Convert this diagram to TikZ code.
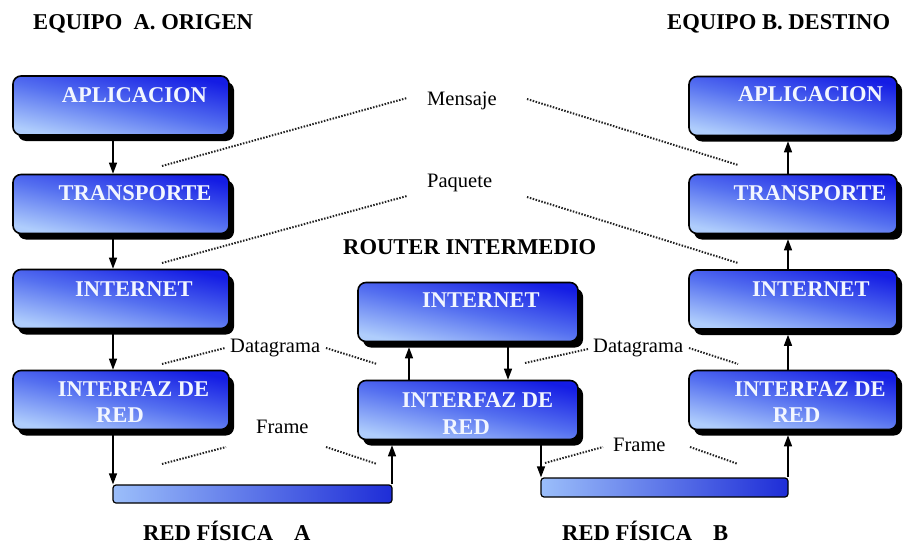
\documentclass[tikz,border=0pt]{standalone}
\usepackage{fontspec}
\setmainfont{Liberation Serif}[BoldFont={Liberation Serif Bold}]
\newfontfamily\titlefont{Liberation Serif Bold}
\usetikzlibrary{shadows,arrows.meta}

\definecolor{layerdark}{RGB}{20,28,228}
\definecolor{layerlight}{RGB}{175,205,252}
\definecolor{layermid}{RGB}{85,112,240}
\definecolor{layertext}{RGB}{242,246,255}
\definecolor{wiredark}{RGB}{30,45,215}
\definecolor{wirelight}{RGB}{155,190,250}
\definecolor{dotgray}{RGB}{35,35,35}

\tikzset{
  layer/.style={draw=black, line width=1.6pt, rounded corners=8pt,
    minimum height=59pt, inner sep=0pt,
    top color=layerdark, bottom color=layerlight, middle color=layermid,
    shading angle=-12,
    general shadow={shadow xshift=5pt, shadow yshift=-6pt, fill=black}},
  layerwide/.style={layer, minimum width=216pt},
  layerrouter/.style={layer, minimum width=220pt},
  layerright/.style={layer, minimum width=208pt},
  layertxt/.style={text=layertext, font=\fontsize{22.5}{24}\selectfont\titlefont, inner sep=0pt},
  heading/.style={font=\fontsize{22.6}{24}\selectfont\titlefont, inner sep=0pt, anchor=base west},
  pdu/.style={font=\fontsize{20.5}{22}\selectfont, inner sep=0pt, anchor=base west},
  wire/.style={draw=black, line width=1.2pt, rounded corners=3pt,
    left color=wirelight, right color=wiredark, inner sep=0pt},
  flow/.style={line width=1.3pt, -{Triangle[length=11pt,width=8pt]}},
  peer/.style={draw=dotgray, line width=2pt, dash pattern=on 1.5pt off 1.5pt},
}

\begin{document}
\begin{tikzpicture}[x=1pt,y=-1pt]
  % canvas
  \fill[white] (0,0) rectangle (903,546);
  \path[use as bounding box] (0,0) rectangle (903,546);

  % column positions of the vertical arrows
  \coordinate (colA)  at (113,0);
  \coordinate (colA2) at (392,0);
  \coordinate (colR1) at (409,0);
  \coordinate (colR2) at (508,0);
  \coordinate (colB2) at (541,0);
  \coordinate (colB)  at (788,0);

  % host A stack
  \node[layerwide] (aplA) at (121,105.5) {};
  \node[layerwide] (traA) at (121,204) {};
  \node[layerwide] (intA) at (121,299) {};
  \node[layerwide] (ifzA) at (121,400) {};

  % router stack
  \node[layerrouter] (intR) at (468,312) {};
  \node[layerrouter] (ifzR) at (468,410) {};

  % host B stack
  \node[layerright] (aplB) at (793,106) {};
  \node[layerright] (traB) at (793,204) {};
  \node[layerright] (intB) at (793,299.5) {};
  \node[layerright] (ifzB) at (793,400) {};

  % physical networks
  \node[wire, minimum width=279pt, minimum height=18pt] (barA) at (252.5,494) {};
  \node[wire, minimum width=247pt, minimum height=19pt] (barB) at (664.5,487.5) {};

  % layer labels
  \node[layertxt] (aplAt) at (134.5,95) {APLICACION};
  \node[layertxt] (traAt) at (135,193) {TRANSPORTE};
  \node[layertxt] (intAt) at (134,289) {INTERNET};
  \node[layertxt] (ifzAt) at (133.5,389) {INTERFAZ DE};
  \node[layertxt] (ifzAr) at (120,415) {RED};

  \node[layertxt] (intRt) at (481,300) {INTERNET};
  \node[layertxt] (ifzRt) at (477.5,400) {INTERFAZ DE};
  \node[layertxt] (ifzRr) at (466,427) {RED};

  \node[layertxt] (aplBt) at (810.5,94) {APLICACION};
  \node[layertxt] (traBt) at (810,193) {TRANSPORTE};
  \node[layertxt] (intBt) at (811,289) {INTERNET};
  \node[layertxt] (ifzBt) at (810,389) {INTERFAZ DE};
  \node[layertxt] (ifzBr) at (796.5,415) {RED};

  % headings
  \node[heading] (hostA)  at (33,29.5)  {EQUIPO\ \ A. ORIGEN};
  \node[heading] (hostB)  at (667,29.5) {EQUIPO B. DESTINO};
  \node[heading] (router) at (343,254.5) {ROUTER INTERMEDIO};
  \node[heading] (netA)   at (143,540)  {RED FÍSICA\hspace{21pt}A};
  \node[heading] (netB)   at (562,540)  {RED FÍSICA\hspace{21pt}B};

  % data units
  \node[pdu] (msg)  at (427,105) {Mensaje};
  \node[pdu] (pkt)  at (427,187) {Paquete};
  \node[pdu] (dgA)  at (230,352) {Datagrama};
  \node[pdu] (dgB)  at (593,352) {Datagrama};
  \node[pdu] (frA)  at (256,433) {Frame};
  \node[pdu] (frB)  at (613,451) {Frame};

  % host A goes down the stack
  \draw[flow] (aplA.south -| colA) -- (traA.north -| colA);
  \draw[flow] (traA.south -| colA) -- (intA.north -| colA);
  \draw[flow] (intA.south -| colA) -- (ifzA.north -| colA);
  \draw[flow] (ifzA.south -| colA) -- (barA.north -| colA);

  % router goes up and back down
  \draw[flow, shorten >=5pt] (barA.north -| colA2) -- (ifzR.south -| colA2);
  \draw[flow, shorten >=5pt] (ifzR.north -| colR1) -- (intR.south -| colR1);
  \draw[flow] (intR.south -| colR2) -- (ifzR.north -| colR2);
  \draw[flow] (ifzR.south -| colB2) -- (barB.north -| colB2);

  % host B goes up the stack
  \draw[flow, shorten >=5pt] (barB.north -| colB) -- (ifzB.south -| colB);
  \draw[flow, shorten >=5pt] (ifzB.north -| colB) -- (intB.south -| colB);
  \draw[flow, shorten >=5pt] (intB.north -| colB) -- (traB.south -| colB);
  \draw[flow, shorten >=5pt] (traB.north -| colB) -- (aplB.south -| colB);

  % peer-to-peer dotted links
  \coordinate (m1) at (162,166); \coordinate (m2) at (407,98);
  \coordinate (m3) at (527,99);  \coordinate (m4) at (738,165);
  \draw[peer] (m1) -- (m2);  \draw[peer] (m3) -- (m4);

  \coordinate (p1) at (162,263); \coordinate (p2) at (407,196);
  \coordinate (p3) at (527,197); \coordinate (p4) at (738,263);
  \draw[peer] (p1) -- (p2);  \draw[peer] (p3) -- (p4);

  \coordinate (d1) at (162,364); \coordinate (d2) at (225,348);
  \coordinate (d3) at (326,348); \coordinate (d4) at (377,364);
  \draw[peer] (d1) -- (d2);  \draw[peer] (d3) -- (d4);

  \coordinate (d5) at (525,363); \coordinate (d6) at (588,349);
  \coordinate (d7) at (689,348); \coordinate (d8) at (738,364);
  \draw[peer] (d5) -- (d6);  \draw[peer] (d7) -- (d8);

  \coordinate (f1) at (162,464); \coordinate (f2) at (226,447);
  \coordinate (f3) at (326,447); \coordinate (f4) at (377,464);
  \draw[peer] (f1) -- (f2);  \draw[peer] (f3) -- (f4);

  \coordinate (f5) at (545,463); \coordinate (f6) at (603,447);
  \coordinate (f7) at (690,447); \coordinate (f8) at (738,464);
  \draw[peer] (f5) -- (f6);  \draw[peer] (f7) -- (f8);
\end{tikzpicture}
\end{document}
